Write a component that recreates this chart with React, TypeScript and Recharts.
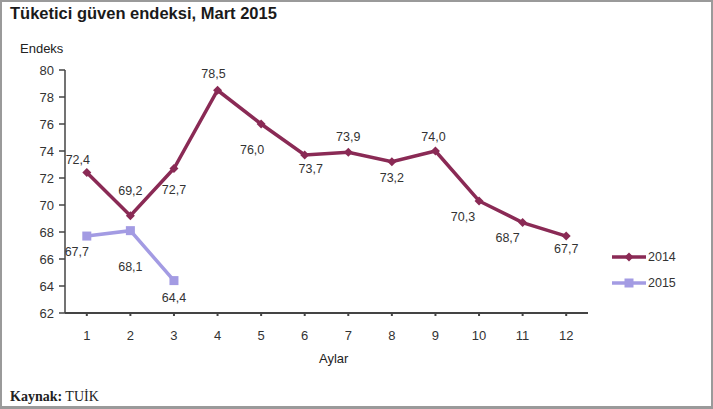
import React from "react";
import { LineChart, Line, XAxis, YAxis, LabelList } from "recharts";

const months = ["1", "2", "3", "4", "5", "6", "7", "8", "9", "10", "11", "12"];
const values2014 = [72.4, 69.2, 72.7, 78.5, 76.0, 73.7, 73.9, 73.2, 74.0, 70.3, 68.7, 67.7];
const values2015 = [67.7, 68.1, 64.4];
const yTicks = [62, 64, 66, 68, 70, 72, 74, 76, 78, 80];

// label offsets from each point (dx, dy)
const offsets2014 = [
  [-9, -13], [0, -25], [0, 21], [-4, -16], [-9, 26], [6, 14],
  [0, -15], [0, 16], [-2, -14], [-16, 16], [-15, 15], [0, 13],
];
const offsets2015 = [[-10, 16], [0, 36], [0, 17]];

const C2014 = "#8a2a55";
const C2015 = "#a39be3";

const data = months.map((m, i) => ({
  month: m,
  y2014: values2014[i],
  y2015: i < values2015.length ? values2015[i] : null,
}));

const fmt = (v: number) => v.toFixed(1).replace(".", ",");

const makeLabel = (offsets: number[][]) => (props: any) => {
  const { x, y, value, index } = props;
  if (value == null) return null;
  const [dx, dy] = offsets[index] || [0, -12];
  return (
    <text
      x={x + dx}
      y={y + dy}
      textAnchor="middle"
      dominantBaseline="central"
      fontSize={12.5}
      fill="#333"
      fontFamily="Liberation Sans, Arial, sans-serif"
    >
      {fmt(value)}
    </text>
  );
};

const Diamond = (props: any) => {
  const { cx, cy } = props;
  if (cx == null || cy == null) return null;
  return <path d={`M${cx},${cy - 4.5} L${cx + 4.5},${cy} L${cx},${cy + 4.5} L${cx - 4.5},${cy} Z`} fill={C2014} />;
};

const Square = (props: any) => {
  const { cx, cy } = props;
  if (cx == null || cy == null) return null;
  return <rect x={cx - 4.5} y={cy - 4.5} width={9} height={9} fill={C2015} />;
};

const text: React.CSSProperties = {
  position: "absolute",
  fontFamily: "Liberation Sans, Arial, sans-serif",
  color: "#222",
  whiteSpace: "nowrap",
};

export default function App() {
  return (
    <div style={{ position: "absolute", left: 0, top: 0, width: 713, height: 409, background: "#fff" }}>
      <div
        style={{
          position: "absolute",
          left: 0,
          top: 0,
          width: 713,
          height: 409,
          boxSizing: "border-box",
          border: "2px solid #9a9a9a",
          borderBottomWidth: 3,
        }}
      />
      <div style={{ ...text, left: 10, top: 4, fontSize: 16.5, fontWeight: "bold", color: "#1a1a1a" }}>
        Tüketici güven endeksi, Mart 2015
      </div>
      <div style={{ ...text, left: 20, top: 41, fontSize: 13 }}>Endeks</div>
      <div style={{ ...text, left: 319, top: 351, fontSize: 13 }}>Aylar</div>
      <div style={{ ...text, left: 10, top: 389, fontSize: 14, fontFamily: "Liberation Serif, Times New Roman, serif" }}>
        <b>Kaynak:</b> TUİK
      </div>
      <svg style={{ position: "absolute", left: 0, top: 0 }} width={713} height={409}>
        <line x1={612} x2={646} y1={257} y2={257} stroke={C2014} strokeWidth={3.5} />
        <Diamond cx={629} cy={257} />
        <text x={648} y={257} dominantBaseline="central" fontSize={12.5} fill="#333" fontFamily="Liberation Sans, Arial, sans-serif">
          2014
        </text>
        <line x1={612} x2={646} y1={283} y2={283} stroke={C2015} strokeWidth={3.5} />
        <Square cx={629} cy={283} />
        <text x={648} y={283} dominantBaseline="central" fontSize={12.5} fill="#333" fontFamily="Liberation Sans, Arial, sans-serif">
          2015
        </text>
      </svg>
      <div style={{ position: "absolute", left: 0, top: 0 }}>
        <LineChart width={713} height={409} data={data} margin={{ top: 70, right: 125, bottom: 66, left: 25 }}>
          <XAxis
            dataKey="month"
            stroke="#444"
            strokeWidth={2}
            tickSize={3}
            tickMargin={15}
            padding={{ left: 21.8, right: 21.8 }}
            tick={{ fontSize: 13, fill: "#333", fontFamily: "Liberation Sans, Arial, sans-serif" }}
            interval={0}
          />
          <YAxis
            domain={[62, 80]}
            ticks={yTicks}
            width={40}
            stroke="#444"
            strokeWidth={1.5}
            tickSize={6}
            tickMargin={5}
            tick={{ fontSize: 13, fill: "#333", fontFamily: "Liberation Sans, Arial, sans-serif" }}
            interval={0}
          />
          <Line
            dataKey="y2014"
            stroke={C2014}
            strokeWidth={3.5}
            dot={<Diamond />}
            activeDot={false}
            isAnimationActive={false}
          >
            <LabelList dataKey="y2014" content={makeLabel(offsets2014)} />
          </Line>
          <Line
            dataKey="y2015"
            stroke={C2015}
            strokeWidth={3.5}
            dot={<Square />}
            activeDot={false}
            connectNulls={false}
            isAnimationActive={false}
          >
            <LabelList dataKey="y2015" content={makeLabel(offsets2015)} />
          </Line>
        </LineChart>
      </div>
    </div>
  );
}
